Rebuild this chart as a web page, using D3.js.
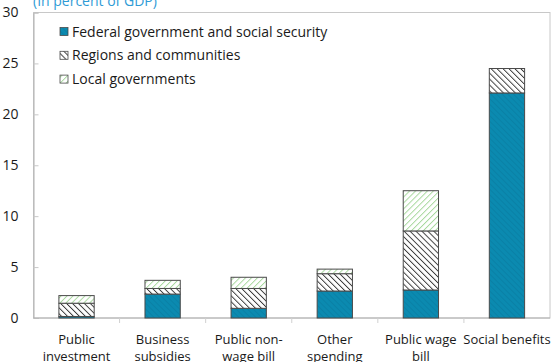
<!DOCTYPE html>
<html>
<head>
<meta charset="utf-8">
<script src="https://cdn.jsdelivr.net/npm/d3@7"></script>
<style>
  html, body { margin: 0; padding: 0; background: #fff; }
  svg { display: block; font-family: "Open Sans", "Noto Sans", sans-serif; }
</style>
</head>
<body>
<svg id="chart" width="551" height="362"></svg>
<script>
// Spending categories (x axis), two-line labels
const categories = ["Public investment", "Business subsidies", "Public non-wage bill", "Other spending", "Public wage bill", "Social benefits"];
const categoryLines = [["Public", "investment"], ["Business", "subsidies"], ["Public non-", "wage bill"], ["Other", "spending"], ["Public wage", "bill"], ["Social benefits"]];

// Series values, in percent of GDP
const seriesNames = ["Federal government and social security", "Regions and communities", "Local governments"];
const federal = [0.15, 2.35, 0.95, 2.65, 2.75, 22.1];
const regions = [1.3, 0.55, 1.95, 1.7, 5.8, 2.4];
const local = [0.75, 0.8, 1.1, 0.45, 3.95, 0.0];

const yTicks = [0, 5, 10, 15, 20, 25, 30];
const unitLabel = "(In percent of GDP)";

const svg = d3.select("#chart");
const plotLeft = 33.5, plotRight = 550, plotTop = 12.5, plotBottom = 318;

const x = d3.scaleBand().domain(categories).range([plotLeft, plotRight]).paddingInner(0.59).paddingOuter(0.295);
const y = d3.scaleLinear().domain([0, 30]).range([plotBottom, plotTop]);

// Hatch patterns
const defs = svg.append("defs");
function hatch(id, bg, stroke, width, dir, spacing) {
  const p = defs.append("pattern").attr("id", id)
    .attr("patternUnits", "userSpaceOnUse")
    .attr("width", spacing).attr("height", spacing)
    .attr("patternTransform", `rotate(${dir})`);
  p.append("rect").attr("width", spacing).attr("height", spacing).attr("fill", bg);
  p.append("line").attr("x1", 0).attr("y1", 0).attr("x2", 0).attr("y2", spacing)
    .attr("stroke", stroke).attr("stroke-width", width);
}
hatch("fedPat", "#0b8ab0", "rgba(0,60,90,0.16)", 1.5, -45, 4);
hatch("regPat", "#ffffff", "#3a3a3a", 1.9, -45, 4.2);
hatch("locPat", "#ffffff", "#a6d89c", 1.9, 45, 4.2);
const fills = ["url(#fedPat)", "url(#regPat)", "url(#locPat)"];

// Frame
svg.append("rect").attr("x", plotLeft).attr("y", plotTop).attr("width", plotRight - plotLeft).attr("height", plotBottom - plotTop)
  .attr("fill", "none").attr("stroke", "#c8c8c8").attr("stroke-width", 1);

// Unit label (partially above the frame)
svg.append("text").attr("x", 33).attr("y", 6).attr("fill", "#2f9bd6").attr("font-size", 14).text(unitLabel);

// Y axis
const yAxis = svg.append("g").attr("transform", `translate(${plotLeft},0)`)
  .call(d3.axisRight(y).tickValues(yTicks).tickSize(5).tickFormat(d3.format("d")));
yAxis.select(".domain").attr("stroke", "#b0b0b0");
yAxis.selectAll(".tick line").attr("stroke", "#c8c8c8");
yAxis.selectAll(".tick text").attr("x", -15).attr("text-anchor", "end").attr("font-size", 14)
  .attr("fill", "#1a1a1a").attr("font-family", "\"Open Sans\", sans-serif");

// X axis baseline and boundary ticks
svg.append("line").attr("x1", plotLeft).attr("x2", plotRight).attr("y1", plotBottom).attr("y2", plotBottom)
  .attr("stroke", "#b0b0b0");
const step = x.step();
d3.range(1, categories.length).forEach(i => {
  const bx = plotLeft + i * step;
  svg.append("line").attr("x1", bx).attr("x2", bx).attr("y1", plotBottom).attr("y2", plotBottom + 5)
    .attr("stroke", "#d0d0d0");
});

// Stacked bars
const rows = categories.map((c, i) => ({ cat: c, federal: federal[i], regions: regions[i], local: local[i] }));
const stack = d3.stack().keys(["federal", "regions", "local"])(rows);
stack.forEach((layer, li) => {
  svg.append("g").selectAll("rect").data(layer.filter(d => d[1] - d[0] > 0)).join("rect")
    .attr("x", d => x(d.data.cat))
    .attr("width", x.bandwidth())
    .attr("y", d => y(d[1]))
    .attr("height", d => y(d[0]) - y(d[1]))
    .attr("fill", fills[li])
    .attr("stroke", "#4a4a4a").attr("stroke-width", 1);
});

// Category labels
const xl = svg.append("g");
categoryLines.forEach((lines, i) => {
  const cx = x(categories[i]) + x.bandwidth() / 2;
  const t = xl.append("text").attr("x", cx).attr("y", 344).attr("text-anchor", "middle")
    .attr("font-size", 13).attr("fill", "#1a1a1a");
  lines.forEach((ln, j) => t.append("tspan").attr("x", cx).attr("dy", j === 0 ? 0 : 17).text(ln));
});

// Legend
const lg = svg.append("g");
seriesNames.forEach((name, i) => {
  const ly = 31.5 + i * 23.8;
  lg.append("rect").attr("x", 60).attr("y", ly - 4).attr("width", 8).attr("height", 8)
    .attr("fill", fills[i]).attr("stroke", "#4a4a4a").attr("stroke-width", 0.8);
  lg.append("text").attr("x", 72).attr("y", ly + 5).attr("font-size", 14).attr("fill", "#1a1a1a").text(name);
});
</script>
</body>
</html>
